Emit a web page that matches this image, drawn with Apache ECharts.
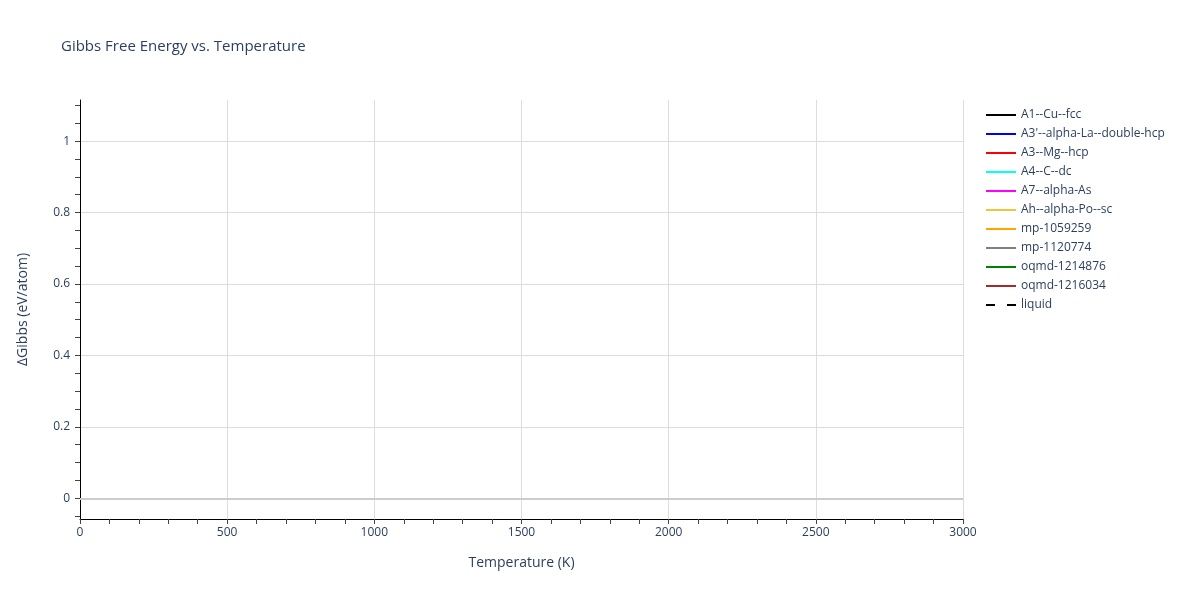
<!DOCTYPE html>
<html>
<head>
<meta charset="utf-8">
<script src="https://cdn.jsdelivr.net/npm/echarts@6/dist/echarts.min.js"></script>
<style>
html,body{margin:0;padding:0;background:#fff;}
#chart{width:1200px;height:600px;}
</style>
</head>
<body>
<div id="chart"></div>
<script>
// Phase names shown in the legend
const phaseNames = [
  "A1--Cu--fcc",
  "A3'--alpha-La--double-hcp",
  "A3--Mg--hcp",
  "A4--C--dc",
  "A7--alpha-As",
  "Ah--alpha-Po--sc",
  "mp-1059259",
  "mp-1120774",
  "oqmd-1214876",
  "oqmd-1216034",
  "liquid"
];
const phaseColors = [
  "#000000", "#0000ff", "#ff0000", "#00ffff", "#ff00ff",
  "#f0c43c", "#ffa500", "#808080", "#008000", "#a52a2a", "#000000"
];
// No curves are visible in the plotted range: every series is empty
const phaseData = [[], [], [], [], [], [], [], [], [], [], []];

const xTicks = [0, 500, 1000, 1500, 2000, 2500, 3000];
const yLabelTicks = [0, 0.2, 0.4, 0.6, 0.8, 1];
const yMinorTicks = [-0.05, 0, 0.05, 0.1, 0.15, 0.2, 0.25, 0.3, 0.35, 0.4, 0.45, 0.5,
  0.55, 0.6, 0.65, 0.7, 0.75, 0.8, 0.85, 0.9, 0.95, 1, 1.05, 1.1];
const yMin = -0.058, yMax = 1.115;

const fontFamily = '"Open Sans", verdana, arial, sans-serif';
const textColor = '#2a3f5f';

const solidIcon = 'path://M0,0h30v2h-30z';
const dashIcon = 'path://M0,0h9v2h-9zM21,0h9v2h-9z';

const series = phaseNames.map((name, i) => {
  const s = {
    name: name,
    type: 'line',
    data: phaseData[i],
    symbol: 'none',
    showSymbol: false,
    color: phaseColors[i],
    lineStyle: { color: phaseColors[i], width: 2, type: name === 'liquid' ? 'dashed' : 'solid' }
  };
  if (i === 0) {
    s.markLine = {
      silent: true,
      symbol: 'none',
      label: { show: false },
      lineStyle: { color: '#cccccc', width: 2, type: 'solid' },
      data: [{ yAxis: 0 }]
    };
  }
  return s;
});

const chart = echarts.init(document.getElementById('chart'), null, { renderer: 'canvas' });
chart.setOption({
  animation: false,
  backgroundColor: '#ffffff',
  title: {
    text: 'Gibbs Free Energy vs. Temperature',
    left: 56, top: 34,
    textStyle: { fontFamily: fontFamily, fontSize: 15, fontWeight: 'normal', color: textColor }
  },
  legend: {
    orient: 'vertical',
    left: 981, top: 104,
    itemWidth: 30, itemHeight: 2, itemGap: 7,
    textStyle: { fontFamily: fontFamily, fontSize: 12, color: textColor },
    data: phaseNames.map((name, i) => ({
      name: name,
      icon: name === 'liquid' ? dashIcon : solidIcon,
      itemStyle: { color: phaseColors[i] }
    }))
  },
  grid: { left: 80, right: 237, top: 100, bottom: 81, containLabel: false },
  xAxis: {
    type: 'value',
    min: 0, max: 3000, interval: 500,
    name: 'Temperature (K)',
    nameLocation: 'middle', nameGap: 37,
    nameTextStyle: { fontFamily: fontFamily, fontSize: 14, color: textColor },
    axisLine: { show: true, onZero: false, lineStyle: { color: '#000', width: 1 } },
    axisTick: { show: true, length: 5, lineStyle: { color: '#444' } },
    minorTick: { show: true, splitNumber: 5, length: 5, lineStyle: { color: '#444' } },
    axisLabel: { fontFamily: fontFamily, fontSize: 12, color: textColor, margin: 8,
      formatter: v => String(v) },
    splitLine: { show: true, lineStyle: { color: '#dddddd', width: 1 } }
  },
  yAxis: [
    {
      type: 'value',
      min: yMin, max: yMax,
      position: 'left',
      axisLine: { show: true, onZero: false, lineStyle: { color: '#000', width: 1 } },
      axisTick: { show: true, length: 5, customValues: yMinorTicks, lineStyle: { color: '#444' } },
      axisLabel: { show: false },
      splitLine: { show: false }
    },
    {
      type: 'value',
      min: yMin, max: yMax,
      position: 'left',
      name: 'ΔGibbs (eV/atom)',
      nameLocation: 'middle', nameGap: 50,
      nameTextStyle: { fontFamily: fontFamily, fontSize: 14, color: textColor },
      axisLine: { show: false, onZero: false },
      axisTick: { show: false, customValues: yLabelTicks },
      axisLabel: { customValues: yLabelTicks, fontFamily: fontFamily, fontSize: 12, color: textColor, margin: 10 },
      splitLine: { show: true, lineStyle: { color: '#dddddd', width: 1 } }
    }
  ],
  series: series
});
</script>
</body>
</html>
